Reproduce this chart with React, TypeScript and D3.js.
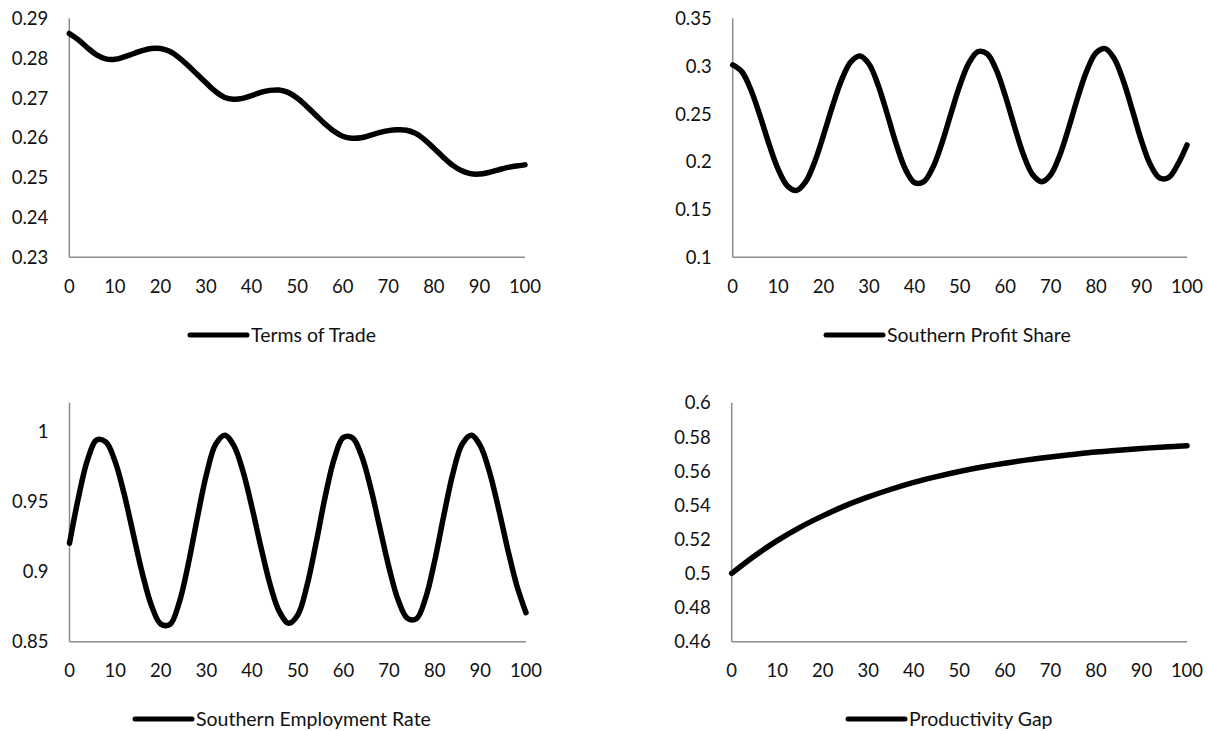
import React, { useEffect, useRef } from "react";
import * as d3 from "d3";

// x values shared by the three oscillating series (step 2) and the gap series (step 5)
const stepTwo = d3.range(0, 101, 2);
const stepFive = d3.range(0, 101, 5);
const xTicks = [0, 10, 20, 30, 40, 50, 60, 70, 80, 90, 100];

const termsOfTrade = [
  0.2862, 0.2846, 0.2826, 0.2808, 0.2798, 0.2797, 0.2803, 0.2811, 0.2819, 0.2824,
  0.2824, 0.2817, 0.2802, 0.2782, 0.276, 0.2738, 0.2717, 0.2702, 0.2697, 0.2699,
  0.2706, 0.2714, 0.2719, 0.272, 0.2714, 0.27, 0.268, 0.2658, 0.2636, 0.2617,
  0.2604, 0.2599, 0.26, 0.2606, 0.2613, 0.2618, 0.262, 0.2619, 0.2611, 0.2595,
  0.2574, 0.2552, 0.2532, 0.2518, 0.251, 0.2509, 0.2513, 0.2519, 0.2525, 0.2529,
  0.2532,
];
const profitShare = [
  0.3012, 0.2942, 0.2753, 0.2482, 0.2184, 0.1922, 0.1749, 0.1699, 0.1786, 0.1992,
  0.2278, 0.2586, 0.2859, 0.3044, 0.3106, 0.3022, 0.2803, 0.2501, 0.2184, 0.1924,
  0.1783, 0.1789, 0.1934, 0.2187, 0.2496, 0.2798, 0.3033, 0.3152, 0.3129, 0.2963,
  0.269, 0.2371, 0.2074, 0.1866, 0.1791, 0.1864, 0.2068, 0.236, 0.2679, 0.2958,
  0.3139, 0.3183, 0.3077, 0.2844, 0.2534, 0.2216, 0.1963, 0.1829, 0.1836, 0.1975,
  0.2175,
];
const employmentRate = [
  0.9203, 0.9536, 0.9804, 0.9942, 0.9926, 0.9786, 0.9551, 0.9265, 0.8982, 0.8755,
  0.8626, 0.8624, 0.8776, 0.9051, 0.9384, 0.9695, 0.9909, 0.9975, 0.9901, 0.9717,
  0.9455, 0.9166, 0.8902, 0.8713, 0.8632, 0.8691, 0.8898, 0.9203, 0.9534, 0.9808,
  0.9959, 0.9956, 0.9826, 0.9596, 0.9312, 0.9028, 0.8798, 0.8668, 0.8664, 0.8811,
  0.9078, 0.9402, 0.9703, 0.991, 0.9975, 0.9899, 0.9712, 0.9449, 0.916, 0.89,
  0.8707,
];
const productivityGap = [
  0.5, 0.5102, 0.5192, 0.527, 0.5337, 0.5397, 0.5448, 0.5493, 0.5533, 0.5567,
  0.5597, 0.5623, 0.5645, 0.5665, 0.5682, 0.5697, 0.5711, 0.5722, 0.5732, 0.5741,
  0.5748,
];

const ticksTerms = [0.23, 0.24, 0.25, 0.26, 0.27, 0.28, 0.29];
const ticksProfit = [0.1, 0.15, 0.2, 0.25, 0.3, 0.35];
const ticksEmployment = [0.85, 0.9, 0.95, 1];
const ticksGap = [0.46, 0.48, 0.5, 0.52, 0.54, 0.56, 0.58, 0.6];

const panels = [
  {
    name: "Terms of Trade", xs: stepTwo, ys: termsOfTrade, ticks: ticksTerms, domain: [0.23, 0.29],
    left: 69.3, right: 525, top: 18.3, bottom: 257.3, legendX: 190, legendY: 335,
  },
  {
    name: "Southern Profit Share", xs: stepTwo, ys: profitShare, ticks: ticksProfit, domain: [0.1, 0.35],
    left: 732.7, right: 1187, top: 18.3, bottom: 257.3, legendX: 826, legendY: 335,
  },
  {
    name: "Southern Employment Rate", xs: stepTwo, ys: employmentRate, ticks: ticksEmployment, domain: [0.85, 1.0207],
    left: 69.5, right: 526, top: 402.7, bottom: 641.7, legendX: 135, legendY: 719,
  },
  {
    name: "Productivity Gap", xs: stepFive, ys: productivityGap, ticks: ticksGap, domain: [0.46, 0.6],
    left: 731.7, right: 1187, top: 402.7, bottom: 641.7, legendX: 848, legendY: 719,
  },
];

const font = "Lato, 'Open Sans', sans-serif";
const fmt = (v: number) => String(+v.toFixed(2));

const draw = (node: SVGSVGElement) => {
  const svg = d3.select(node);
  svg.selectAll("*").remove();

  panels.forEach(p => {
    const x = d3.scaleLinear().domain([0, 100]).range([p.left, p.right]);
    const y = d3.scaleLinear().domain(p.domain).range([p.bottom, p.top]);
    const g = svg.append("g");

    // axes: plain grey lines, no tick marks
    g.append("line")
      .attr("x1", p.left).attr("x2", p.left)
      .attr("y1", p.top).attr("y2", p.bottom)
      .attr("stroke", "#8c8c8c").attr("stroke-width", 1.5);
    g.append("line")
      .attr("x1", p.left).attr("x2", p.right)
      .attr("y1", p.bottom).attr("y2", p.bottom)
      .attr("stroke", "#8c8c8c").attr("stroke-width", 1.5);

    g.selectAll(".ylab")
      .data(p.ticks)
      .enter()
      .append("text")
      .attr("x", p.left - 21)
      .attr("y", d => y(d))
      .attr("dy", "0.36em")
      .attr("text-anchor", "end")
      .style("font-family", font)
      .style("font-size", "18.5px")
      .attr("fill", "#111")
      .text(d => fmt(d));

    g.selectAll(".xlab")
      .data(xTicks)
      .enter()
      .append("text")
      .attr("x", d => x(d))
      .attr("y", p.bottom + 29)
      .attr("dy", "0.36em")
      .attr("text-anchor", "middle")
      .style("font-family", font)
      .style("font-size", "18.5px")
      .attr("fill", "#111")
      .text(d => d);

    const line = d3
      .line<number>()
      .x((_, i) => x(p.xs[i]))
      .y(d => y(d))
      .curve(d3.curveCatmullRom.alpha(0.5));
    g.append("path")
      .datum(p.ys)
      .attr("d", line)
      .attr("fill", "none")
      .attr("stroke", "#000")
      .attr("stroke-width", 5.5)
      .attr("stroke-linejoin", "round")
      .attr("stroke-linecap", "round");

    // legend
    g.append("line")
      .attr("x1", p.legendX).attr("x2", p.legendX + 57)
      .attr("y1", p.legendY).attr("y2", p.legendY)
      .attr("stroke", "#000").attr("stroke-width", 5)
      .attr("stroke-linecap", "round");
    g.append("text")
      .attr("x", p.legendX + 61)
      .attr("y", p.legendY)
      .attr("dy", "0.36em")
      .style("font-family", font)
      .style("font-size", "19.5px")
      .attr("fill", "#111")
      .text(p.name);
  });
};

const App = () => {
  const ref = useRef<SVGSVGElement>(null);
  useEffect(() => {
    if (ref.current) draw(ref.current);
  }, []);
  return (
    <svg
      ref={ref}
      width={1209}
      height={731}
      style={{ position: "absolute", left: 0, top: 0, background: "#fff" }}
    />
  );
};

export default App;
